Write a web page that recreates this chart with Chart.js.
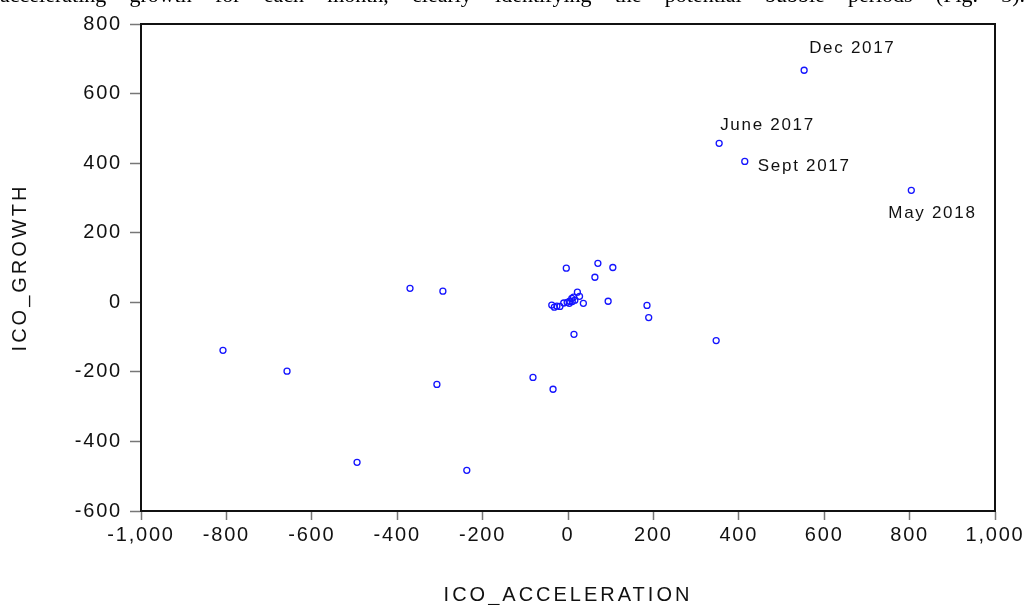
<!DOCTYPE html>
<html>
<head>
<meta charset="utf-8">
<script src="https://cdn.jsdelivr.net/npm/chart.js@4.4.1/dist/chart.umd.min.js"></script>
<style>
  html, body { margin: 0; padding: 0; background: #fff; overflow: hidden; }
  #wrap { position: relative; width: 1030px; height: 605px; overflow: hidden; }
  #topText {
    position: absolute; left: 0; top: -16px; width: 1025px;
    font-family: "Liberation Serif", "Times New Roman", serif; font-size: 22px; line-height: 22px;
    text-align: justify; text-align-last: justify; white-space: nowrap; color: #000;
  }
  canvas { position: absolute; left: 0; top: 0; }
</style>
</head>
<body>
<div id="wrap">
  <canvas id="chart" width="1030" height="605"></canvas>
  <div id="topText">accelerating growth for each month, clearly identifying the potential bubble periods (Fig. 3).</div>
</div>
<script>
// ICO acceleration (x) vs ICO growth (y)
const xValues = [553, 354, 414, 804, -370, -293, -808, -658, -307, -82, -35, -494, -237,
  70, 105, 63, 94, 36, 185, 189, 347, -4, 22, 27, 14,
  -38, -32, -26, -19, -10, -2, 4, 9, 13, 16, 3, 10];
const yValues = [667, 457, 405, 322, 40, 32, -138, -198, -236, -216, -250, -460, -483,
  112, 100, 72, 3, -3, -9, -44, -110, 98, 29, 17, -92,
  -8, -14, -11, -12, -2, 0, 3, 11, 15, 6, -3, 2];

const xTicks = [-1000, -800, -600, -400, -200, 0, 200, 400, 600, 800, 1000];
const yTicks = [-600, -400, -200, 0, 200, 400, 600, 800];

const noteLabels = ['Dec 2017', 'June 2017', 'Sept 2017', 'May 2018'];
const notePoints = [0, 1, 2, 3];
const noteOffsets = [[5, -22], [1, -18], [13, 5], [-23, 23]];

const points = xValues.map((x, i) => ({ x: x, y: yValues[i] }));
const fmt = v => v.toLocaleString('en-US');

const tickFont = { family: '"Liberation Sans", Arial, sans-serif', size: 20 };

const framePlugin = {
  id: 'frame',
  beforeDraw(chart) {
    chart.ctx.letterSpacing = '1.8px';
  },
  afterDraw(chart) {
    const { ctx, chartArea: a, scales } = chart;
    ctx.save();
    ctx.letterSpacing = '0px';
    ctx.strokeStyle = '#111';
    ctx.lineWidth = 2;
    ctx.strokeRect(a.left, a.top, a.right - a.left, a.bottom - a.top);

    ctx.fillStyle = '#111';
    ctx.font = '17px "Liberation Sans", Arial, sans-serif';
    ctx.letterSpacing = '1.7px';
    ctx.textAlign = 'left';
    ctx.textBaseline = 'middle';
    noteLabels.forEach((lbl, k) => {
      const i = notePoints[k];
      const px = scales.x.getPixelForValue(xValues[i]);
      const py = scales.y.getPixelForValue(yValues[i]);
      ctx.fillText(lbl, px + noteOffsets[k][0], py + noteOffsets[k][1]);
    });

    ctx.font = '20px "Liberation Sans", Arial, sans-serif';
    ctx.letterSpacing = '3px';
    ctx.textAlign = 'center';
    ctx.fillText('ICO_ACCELERATION', (a.left + a.right) / 2, 595);
    ctx.translate(20, (a.top + a.bottom) / 2);
    ctx.rotate(-Math.PI / 2);
    ctx.fillText('ICO_GROWTH', 0, 0);
    ctx.restore();
  }
};

new Chart(document.getElementById('chart'), {
  type: 'scatter',
  data: {
    datasets: [{
      data: points,
      pointStyle: 'circle',
      pointRadius: 3,
      pointHoverRadius: 3,
      pointBorderWidth: 1.3,
      borderColor: 'rgb(20,20,255)',
      backgroundColor: 'rgba(0,0,0,0)'
    }]
  },
  options: {
    responsive: false,
    animation: false,
    events: [],
    layout: { padding: { top: 24, right: 35, left: 0, bottom: 0 } },
    scales: {
      x: {
        type: 'linear',
        min: -1000,
        max: 1000,
        afterFit: s => { s.height = 94; },
        afterBuildTicks: s => { s.ticks = xTicks.map(v => ({ value: v })); },
        grid: { drawOnChartArea: false, drawTicks: true, tickLength: 9, tickColor: '#777', tickWidth: 1.5 },
        border: { display: true, color: '#111', width: 2 },
        ticks: { color: '#111', font: tickFont, padding: 3, maxRotation: 0, callback: v => fmt(v) }
      },
      y: {
        type: 'linear',
        min: -600,
        max: 800,
        afterFit: s => { s.width = 141; },
        afterBuildTicks: s => { s.ticks = yTicks.map(v => ({ value: v })); },
        grid: { drawOnChartArea: false, drawTicks: true, tickLength: 11, tickColor: '#777', tickWidth: 1.5 },
        border: { display: true, color: '#111', width: 2 },
        ticks: { color: '#111', font: tickFont, padding: 8, callback: v => fmt(v) }
      }
    },
    plugins: {
      legend: { display: false },
      tooltip: { enabled: false }
    }
  },
  plugins: [framePlugin]
});
</script>
</body>
</html>
